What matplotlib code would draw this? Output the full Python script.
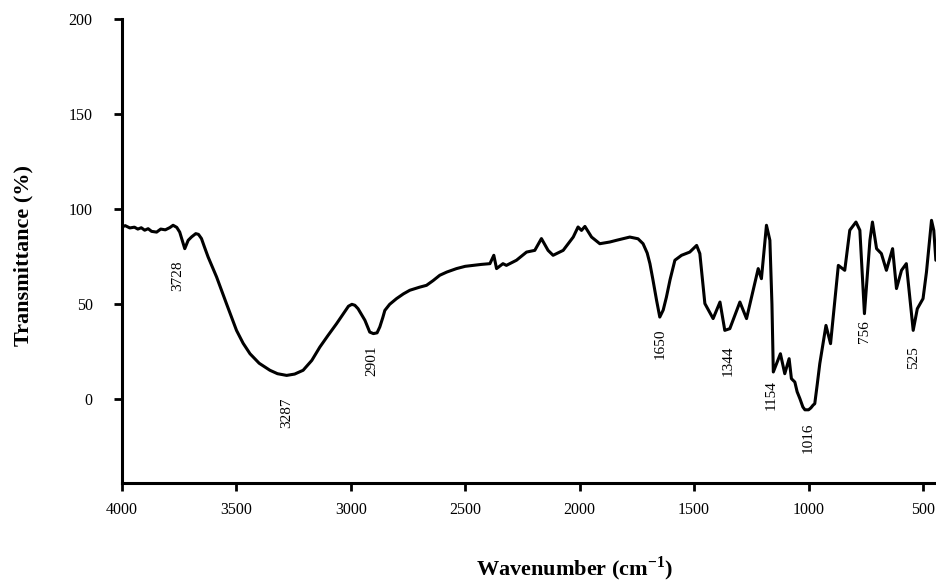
import matplotlib
matplotlib.use("Agg")
import matplotlib.pyplot as plt

# FTIR spectrum
wavenumber = [4000, 3985, 3965, 3945, 3930, 3915, 3900, 3885, 3870, 3848, 3830,
              3810, 3790, 3776, 3760, 3747, 3725, 3710, 3695, 3677, 3665, 3652,
              3640, 3623, 3586, 3565, 3543, 3520, 3499, 3470, 3440, 3400,
              3353, 3320, 3280, 3245, 3208, 3170, 3135, 3100, 3062, 3030, 3010,
              2995, 2982, 2968, 2938, 2917, 2901, 2885, 2873, 2860, 2851, 2830,
              2800, 2770, 2742, 2700, 2669, 2640, 2611, 2580, 2538, 2500, 2465,
              2430, 2392, 2375, 2363, 2335, 2320, 2276, 2232, 2196, 2167, 2138,
              2116, 2072, 2028, 2007, 1992, 1977, 1948, 1912, 1868, 1839, 1781,
              1745, 1723, 1705, 1693, 1680, 1664, 1650, 1635, 1621, 1605, 1584,
              1555, 1519, 1489, 1475, 1453, 1417, 1387, 1366, 1344, 1300, 1271,
              1242, 1220, 1206, 1184, 1169, 1160, 1154, 1123, 1104, 1085, 1075,
              1060, 1050, 1038, 1025, 1016, 1000, 990, 980, 973, 962, 951, 924,
              904, 885, 870, 842, 820, 793, 776, 756, 732, 721, 703, 682, 660,
              633, 616, 594, 573, 558, 543, 525, 500, 485, 463, 453, 444]
transmittance = [90.7, 91.4, 90.2, 90.6, 89.6, 90.3, 89.0, 89.8, 88.4, 88.0, 89.6,
                 89.2, 90.4, 91.6, 90.5, 88.0, 79.3, 83.7, 85.5, 87.2, 86.8, 84.6,
                 80.5, 74.9, 64.4, 57.5, 50.4, 43.0, 36.3, 29.5, 24.0, 19.0,
                 15.3, 13.5, 12.6, 13.3, 15.3, 20.5, 27.5, 33.5, 39.8, 45.5, 49.0,
                 50.0, 49.5, 47.7, 41.6, 35.4, 34.6, 35.0, 38.1, 43.0, 46.8, 50.0,
                 53.0, 55.5, 57.4, 59.0, 60.0, 62.5, 65.3, 67.0, 68.8, 70.0, 70.5,
                 71.0, 71.4, 75.8, 68.8, 71.4, 70.5, 73.2, 77.5, 78.4, 84.6, 78.4,
                 75.8, 78.4, 85.4, 90.7, 88.9, 91.0, 85.4, 81.9, 82.8, 83.7, 85.4,
                 84.5, 81.9, 77.0, 71.4, 63.0, 52.1, 43.3, 47.0, 53.8, 63.0, 73.2,
                 75.8, 77.5, 81.0, 76.7, 50.4, 42.5, 51.2, 36.3, 37.2, 51.2, 42.5,
                 57.4, 68.8, 63.5, 91.6, 83.7, 50.0, 14.4, 24.0, 13.5, 21.4, 10.9,
                 9.1, 4.0, 0.4, -4.0, -5.5, -5.5, -4.5, -3.0, -2.3, 8.0, 18.8, 38.9,
                 29.3, 52.1, 70.5, 67.9, 89.0, 93.3, 89.0, 45.1, 83.7, 93.3, 79.3,
                 76.7, 67.9, 79.3, 58.3, 67.9, 71.4, 53.8, 36.3, 47.7, 53.0, 67.0,
                 94.2, 88.9, 73.2]

peak_labels = ["3728", "3287", "2901", "1650", "1344", "1154", "1016", "756", "525"]
peak_x = [3755, 3279, 2909, 1650, 1353, 1162, 1002, 754, 543]
peak_y = [65, -7, 20.5, 29.5, 20.5, 2, -20, 35.5, 22]

plt.rcParams["font.family"] = ["Liberation Serif", "DejaVu Serif"]

fig = plt.figure(figsize=(9.37, 5.84), dpi=100)
ax = fig.add_axes([0.130, 0.173, 0.870, 0.794])

ax.plot(wavenumber, transmittance, color="black", lw=2.2,
        solid_joinstyle="round", solid_capstyle="round")

for lab, px, py in zip(peak_labels, peak_x, peak_y):
    ax.text(px, py, lab, rotation=90, ha="center", va="center", fontsize=11)

ax.set_xlim(4000, 439)
ax.set_ylim(-44, 200)
ax.set_xticks([4000, 3500, 3000, 2500, 2000, 1500, 1000, 500])
ax.set_yticks([0, 50, 100, 150, 200])

for side in ("top", "right"):
    ax.spines[side].set_visible(False)
for side in ("left", "bottom"):
    ax.spines[side].set_linewidth(2.2)

ax.tick_params(axis="both", direction="out", length=6, width=2, labelsize=11.5)
ax.tick_params(axis="y", pad=15)
ax.tick_params(axis="x", pad=8)

ax.set_xlabel("Wavenumber (cm$^{\\mathregular{-1}}$)", fontsize=16, fontweight="bold")
ax.set_ylabel("Transmittance (%)", fontsize=16, fontweight="bold")
ax.xaxis.set_label_coords(0.556, -0.155)
ax.yaxis.set_label_coords(-0.108, 0.49)

fig.savefig("out.png", dpi=100)
